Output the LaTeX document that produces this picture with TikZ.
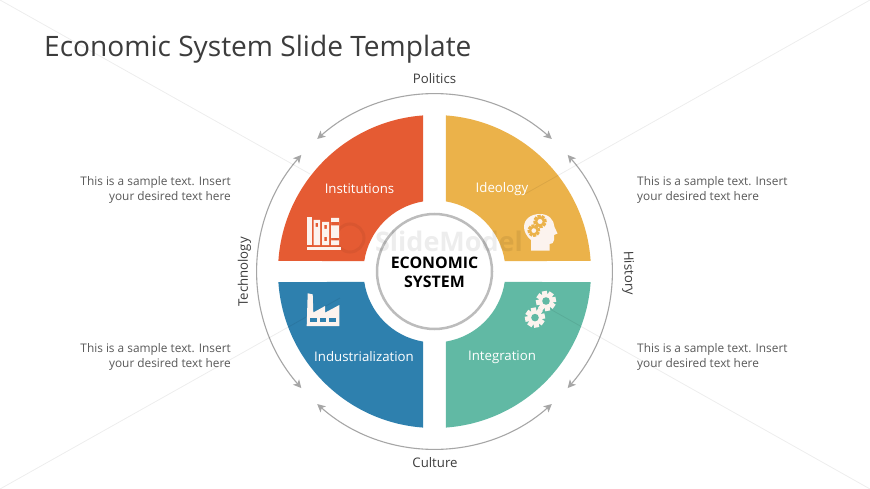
\documentclass[tikz,border=0pt]{standalone}
\usepackage{fontspec}
\setmainfont{Open Sans}
\usetikzlibrary{arrows.meta}
\definecolor{cOrange}{HTML}{E55B33}
\definecolor{cYellow}{HTML}{EBB24A}
\definecolor{cGreen}{HTML}{61B9A4}
\definecolor{cBlue}{HTML}{2E80AE}
\definecolor{cIcon}{HTML}{FCF3EE}
\definecolor{cArc}{HTML}{A6A6A6}
\definecolor{cText}{HTML}{595959}
\definecolor{cLabel}{HTML}{3C3C3C}
\tikzset{
  cyclearc/.style={draw=cArc,line width=1.1pt,{Stealth[length=8pt,width=8pt,inset=2pt]}-{Stealth[length=8pt,width=8pt,inset=2pt]}},
  sidetext/.style={inner sep=0pt,text=cText,font=\fontsize{11.85}{15}\selectfont},
  looplabel/.style={inner sep=0pt,text=cLabel,font=\fontsize{13.2}{15}\selectfont},
  sectorlabel/.style={inner sep=0pt,text=white,font=\fontsize{13.25}{15}\selectfont},
  diagline/.style={draw=black,opacity=0.07,line width=0.8pt},
  watermark/.style={inner sep=0pt,text=black,opacity=0.07}
}
\newcommand{\gearshape}[5]{% x y r colour holecolour
  \fill[#4] (#1,#2) circle (0.72*#3);
  \foreach \ga in {0,45,90,135}{
    \fill[#4,rotate around={\ga+10:(#1,#2)}] (#1-#3,#2-0.26*#3) rectangle (#1+#3,#2+0.26*#3);
  }
  \fill[#5] (#1,#2) circle (0.38*#3);
}
\begin{document}
\begin{tikzpicture}[x=1pt,y=-1pt]
\useasboundingbox[fill=white] (0,0) rectangle (870,489);
\coordinate (c) at (434.5,271.5);
% diagonal hairlines
\coordinate (dTL) at (0,0); \coordinate (eTL) at (310,174);
\coordinate (dTR) at (870,0); \coordinate (eTR) at (525,194);
\coordinate (dBL) at (0,489); \coordinate (eBL) at (340,298);
\coordinate (dBR) at (870,489); \coordinate (eBR) at (550,309);
% sectors
\begin{scope}[shift={(c)}]
  \fill[cOrange] (183.85:156.5) arc (183.85:265.79:156.5) -- (260.7:71) arc (260.7:188.5:71) -- cycle;
  \fill[cYellow] (356.15:156.5) arc (356.15:274.21:156.5) -- (279.3:71) arc (279.3:351.5:71) -- cycle;
  \fill[cBlue] (176.15:156.5) arc (176.15:94.21:156.5) -- (99.3:71) arc (99.3:171.5:71) -- cycle;
  \fill[cGreen] (3.85:156.5) arc (3.85:85.79:156.5) -- (80.7:71) arc (80.7:8.5:71) -- cycle;
  \draw[draw=cArc!75,line width=2.5pt,fill=white] (0,0) circle (57.5);
  \draw[cyclearc] (228.5:177) arc (228.5:311.5:177);
  \draw[cyclearc] (138.8:177) arc (138.8:221.2:177);
  \draw[cyclearc] (318.8:177) arc (318.8:401.2:177);
  \draw[cyclearc] (48.5:177) arc (48.5:131.5:177);
\end{scope}
\draw[diagline] (dTL) -- (eTL);
\draw[diagline] (dTR) -- (eTR);
\draw[diagline] (dBL) -- (eBL);
\draw[diagline] (dBR) -- (eBR);
% watermark
\draw[black,opacity=0.05,line width=3pt] (350,238) circle (14);
\node[watermark,font=\fontsize{27}{30}\bfseries\selectfont] (wm) at (449,241.5) {SlideModel};
% title
\node[anchor=base west,inner sep=0pt,text=cLabel,font=\fontsize{28.1}{32}\selectfont] (title) at (44,57) {Economic System Slide Template};
% loop labels
\node[looplabel] (politics) at (434.5,79) {Politics};
\node[looplabel] (culture) at (435,463) {Culture};
\node[looplabel,rotate=90] (technology) at (244.5,272) {Technology};
\node[looplabel,rotate=-88] (history) at (628,273) {History};
% sector labels
\node[sectorlabel] (inst) at (359.5,189) {Institutions};
\node[sectorlabel] (ideo) at (502,189.5) {Ideology};
\node[sectorlabel] (indu) at (364,356.5) {Industrialization};
\node[sectorlabel] (inte) at (502,357) {Integration};
% centre
\node[inner sep=0pt,align=center,text=black,font=\fontsize{15.9}{19.5}\bfseries\selectfont] (centre) at (434.5,272.5) {ECONOMIC\\SYSTEM};
% side texts
\node[sidetext,anchor=east,align=right] (tl) at (231,189.5) {This is a sample text. Insert\\your desired text here};
\node[sidetext,anchor=east,align=right] (bl) at (231,356.5) {This is a sample text. Insert\\your desired text here};
\node[sidetext,anchor=west,align=left] (tr) at (637,189.5) {This is a sample text. Insert\\your desired text here};
\node[sidetext,anchor=west,align=left] (br) at (637,356.5) {This is a sample text. Insert\\your desired text here};
% books icon
\fill[cIcon] (307,247) rectangle (341,249.5);
\fill[cIcon] (307,217) rectangle (312,245);
\fill[cIcon,even odd rule] (313.5,220) rectangle (320,245) (315.5,223) rectangle (318,227);
\fill[cIcon,even odd rule] (322,222) rectangle (329,245) (324.3,225) rectangle (326.8,229) (324.3,237) rectangle (326.8,241);
\fill[cIcon,even odd rule] (331,218) rectangle (339,245) (331,222) rectangle (339,225.5) (331,238) rectangle (339,240.5);
% head icon
\fill[cIcon] (531,250.5) -- (531,240) .. controls (526,236) and (524,231) .. (524,227)
  .. controls (524,219) and (531,214) .. (540,214)
  .. controls (549,214) and (554,220) .. (554.5,227)
  -- (557.5,233.5) -- (554,235) -- (554,240) .. controls (554,243) and (552,244) .. (549.5,244) -- (549.5,250.5) -- cycle;
\gearshape{540}{221.5}{6.6}{cYellow}{cIcon}
\gearshape{533.8}{230.6}{6.2}{cYellow}{cIcon}
% factory icon
\fill[cIcon] (307.7,293.3) -- (312.7,294.3) -- (313.3,312.5) -- (325,306) -- (325,312.7) -- (339.3,305) -- (339.3,326) -- (306.7,326) -- cycle;
\fill[cBlue] (310,318.3) rectangle (316.7,322.3);
\fill[cBlue] (320,318.3) rectangle (325.7,322.3);
\fill[cBlue] (329.3,318.3) rectangle (335.7,322.3);
% gears icon
\gearshape{546}{301}{10}{cIcon}{cGreen}
\gearshape{535}{317.6}{10}{cIcon}{cGreen}
\end{tikzpicture}
\end{document}
